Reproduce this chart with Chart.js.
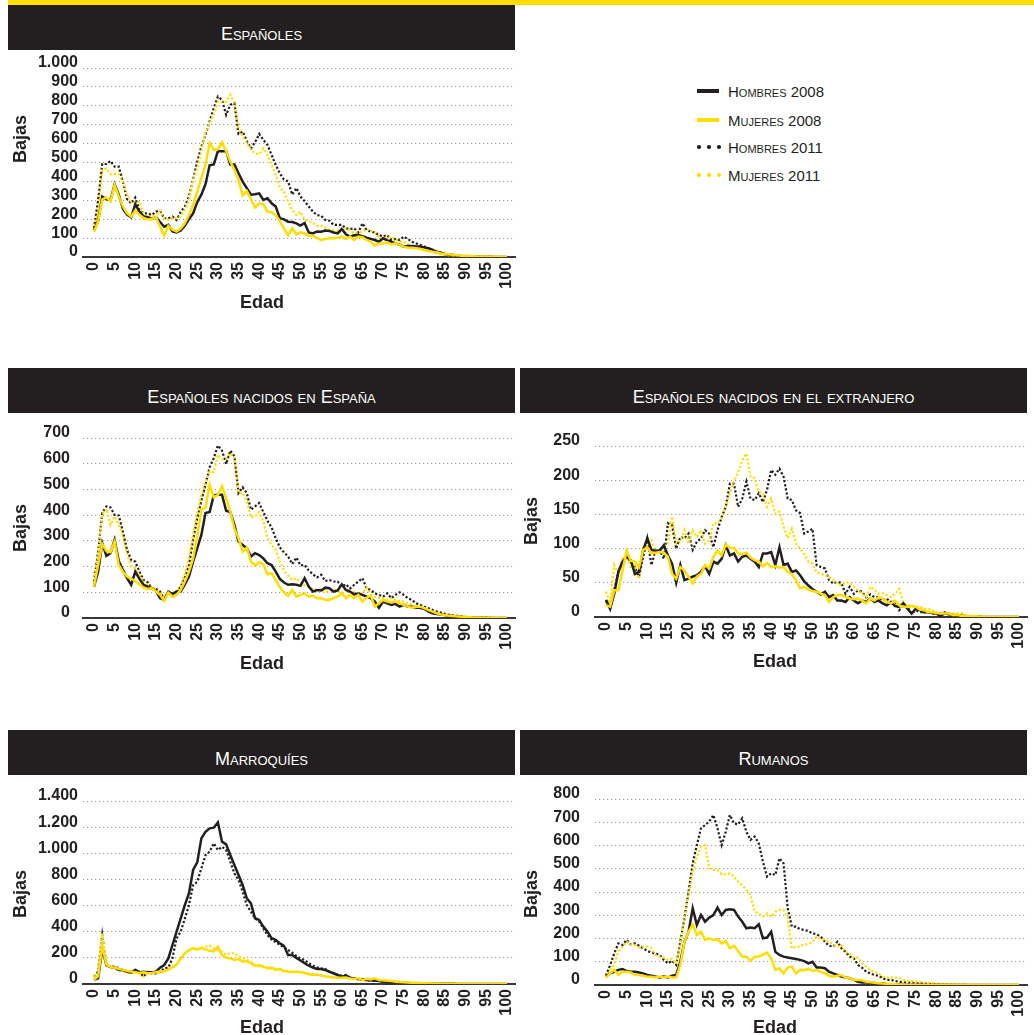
<!DOCTYPE html>
<html><head><meta charset="utf-8">
<script src="https://cdn.jsdelivr.net/npm/chart.js@4.4.0/dist/chart.umd.min.js"></script>
<style>
body{margin:0;background:#fff;width:1034px;height:1035px;position:relative;overflow:hidden;font-family:"Liberation Sans",Arial,Helvetica,sans-serif;color:#231f20}
.band{position:absolute;left:8px;top:0;width:1026px;height:5px;background:#ffdd00}
.hdr{position:absolute;width:507px;height:45px;background:#231f20;color:#fff;font-size:18px;font-variant:small-caps;display:flex;justify-content:center;align-items:center;box-sizing:border-box;padding-top:13px;line-height:1}
canvas{position:absolute}
.yt,.xt{position:absolute;font-weight:bold;font-size:18px;white-space:nowrap;line-height:1;color:#231f20}
.yt{transform:translate(-50%,-50%) rotate(-90deg)}
.xt{transform:translate(-50%,-50%)}
.leg{position:absolute;left:697px;height:20px;display:flex;align-items:center;font-size:15px;font-variant:small-caps;color:#231f20}
.ls{width:22px;height:3.3px;margin-right:9px}
.dots{display:flex;justify-content:space-between;width:24px;margin-right:7px}
.dots i{display:block;width:3.6px;height:3.6px;border-radius:50%}
</style></head>
<body>
<div class="band"></div>
<canvas id="c1" width="520" height="250" style="left:0;top:48px"></canvas>
<canvas id="c2" width="520" height="245" style="left:0;top:418px"></canvas>
<canvas id="c3" width="520" height="240" style="left:512px;top:426px"></canvas>
<canvas id="c4" width="520" height="254" style="left:0;top:781px"></canvas>
<canvas id="c5" width="520" height="256" style="left:512px;top:779px"></canvas>
<div id="h1" class="hdr" style="left:8px;top:5px"></div>
<div id="h2" class="hdr" style="left:8px;top:368px"></div>
<div id="h3" class="hdr" style="left:520px;top:368px"></div>
<div id="h4" class="hdr" style="left:8px;top:730px"></div>
<div id="h5" class="hdr" style="left:520px;top:730px"></div>
<div id="legend"></div>
<div id="titles"></div>
<script>
const ages = [0,1,2,3,4,5,6,7,8,9,10,11,12,13,14,15,16,17,18,19,20,21,22,23,24,25,26,27,28,29,30,31,32,33,34,35,36,37,38,39,40,41,42,43,44,45,46,47,48,49,50,51,52,53,54,55,56,57,58,59,60,61,62,63,64,65,66,67,68,69,70,71,72,73,74,75,76,77,78,79,80,81,82,83,84,85,86,87,88,89,90,91,92,93,94,95,96,97,98,99,100];
const xTicks = [0,5,10,15,20,25,30,35,40,45,50,55,60,65,70,75,80,85,90,95,100];
const seriesNames = ['Hombres 2008','Mujeres 2008','Hombres 2011','Mujeres 2011'];
const panelTitles = ['Españoles','Españoles nacidos en España','Españoles nacidos en el extranjero','Marroquíes','Rumanos'];
const yTitle = 'Bajas';
const xTitle = 'Edad';

// Españoles
const espYTicks = [0,100,200,300,400,500,600,700,800,900,1000];
const espH08 = [140,190,320,305,300,385,330,255,225,210,280,240,215,210,200,210,185,160,170,135,130,140,165,200,230,290,330,385,485,490,560,560,560,490,490,443,399,364,330,332,337,302,311,284,267,205,199,187,185,178,166,180,130,125,135,134,140,138,130,125,148,120,108,115,116,110,102,96,90,81,99,88,81,72,65,55,58,58,56,55,50,46,38,28,22,16,13,11,8,5,4,3,2,2,1,1,1,0,0,0,0];
const espM08 = [134,187,305,315,293,381,320,267,232,214,246,223,206,200,200,211,160,112,165,145,135,150,178,222,275,346,417,487,602,567,570,607,558,505,461,408,325,349,307,261,284,279,240,237,222,191,152,115,152,120,130,125,113,113,100,90,95,99,99,102,108,95,108,90,108,105,90,81,60,72,72,78,67,72,64,55,49,49,46,42,37,32,28,25,19,16,14,11,9,7,6,5,4,3,2,2,1,1,1,0,0];
const espH11 = [152,300,492,492,508,478,478,399,307,284,314,249,231,231,222,240,244,205,205,214,196,240,267,320,408,505,584,646,717,787,849,831,752,805,814,651,664,614,575,607,651,620,593,540,487,443,410,400,330,365,320,295,268,240,222,218,196,192,170,170,170,152,148,152,130,178,143,134,130,116,108,116,90,95,90,108,95,81,72,64,55,46,37,28,23,14,11,8,6,4,3,2,2,1,1,1,0,0,0,0,0];
const espM11 = [143,240,461,469,438,438,438,399,328,293,284,293,226,214,214,222,244,205,196,208,205,215,250,300,399,469,558,660,708,755,822,819,822,858,814,681,637,602,567,549,544,575,540,487,434,367,346,293,249,222,240,196,191,180,165,165,155,143,140,138,145,152,140,125,130,134,148,140,134,102,99,105,108,95,81,81,68,55,50,46,42,37,28,19,15,11,9,7,5,4,3,3,2,2,1,1,1,0,0,0,0];

// Españoles nacidos en España
const nacYTicks = [0,100,200,300,400,500,600,700];
const nacH08 = [122,180,291,242,252,304,222,187,155,129,180,152,129,122,116,105,77,70,103,92,103,103,131,161,219,271,323,408,412,477,479,479,417,412,362,297,284,271,239,252,245,232,213,206,180,152,138,129,131,129,125,155,122,103,109,107,118,116,103,107,131,109,103,92,95,90,83,77,64,40,64,57,51,55,44,51,44,44,40,40,35,25,18,16,14,12,9,8,5,4,3,2,2,1,1,1,0,0,0,0,0];
const nacM08 = [122,206,287,261,256,297,206,180,161,152,144,131,118,113,116,103,90,66,99,83,90,109,142,180,232,317,421,430,518,469,479,512,466,414,347,310,258,274,219,204,217,209,170,174,148,119,100,87,109,83,90,96,83,87,77,77,70,70,77,83,96,77,90,77,90,64,79,87,44,57,70,64,60,64,57,51,44,40,44,44,38,31,25,18,14,12,9,8,6,5,4,3,2,2,1,1,1,0,0,0,0];
const nacH11 = [142,258,408,434,430,401,399,336,265,226,219,180,148,139,116,113,103,74,100,96,100,122,155,206,304,388,456,518,586,622,671,651,599,651,629,486,508,486,421,434,447,412,378,352,310,275,255,240,210,235,205,206,185,170,158,168,144,148,142,142,122,131,115,129,142,155,115,109,96,90,83,96,77,90,100,90,77,70,57,51,44,38,31,25,21,16,12,9,8,6,4,3,2,2,1,1,1,0,0,0,0];
const nacM11 = [129,245,401,425,362,395,362,323,252,200,194,168,142,129,119,112,96,83,96,96,103,122,174,232,323,408,479,521,570,568,635,619,619,642,622,486,486,453,391,395,412,375,310,284,265,219,185,165,148,155,138,126,122,112,108,113,100,106,109,105,96,109,103,100,90,96,118,92,83,77,77,70,77,70,66,64,57,51,44,40,35,31,25,21,17,14,11,9,7,5,4,3,2,2,1,1,1,0,0,0,0];

// Españoles nacidos en el extranjero
const extYTicks = [0,50,100,150,200,250];
const extH08 = [25,12,34,66,81,88,83,63,66,98,115,98,97,97,105,90,78,50,76,54,56,59,61,66,74,63,81,78,85,105,90,93,81,88,90,85,81,73,93,93,95,76,102,76,78,66,68,61,52,46,41,37,33,37,29,32,24,24,22,29,24,20,24,22,27,22,24,20,17,22,16,15,20,12,5,12,10,7,7,6,5,2,5,4,3,2,2,1,1,1,1,0,0,0,0,0,0,0,0,0,0];
const extM08 = [17,15,39,39,68,97,82,81,73,98,102,93,94,95,94,88,63,56,73,68,59,49,59,63,76,71,88,97,90,106,101,101,93,92,94,87,83,81,74,79,73,74,72,73,66,63,54,42,44,40,38,37,34,32,22,29,32,32,29,27,26,27,24,20,27,24,29,27,22,20,24,17,15,15,16,15,11,10,7,7,6,5,5,5,3,3,2,2,1,1,1,0,0,0,0,0,0,0,0,0,0];
const extH11 = [24,12,40,66,81,88,81,73,59,88,115,76,97,98,85,137,134,100,117,115,122,98,110,115,127,122,102,127,146,161,195,195,161,173,198,173,171,181,168,186,215,208,217,205,173,171,156,152,122,125,129,76,73,71,54,49,51,50,34,44,34,39,37,29,33,29,29,24,27,20,24,10,17,15,5,10,7,7,7,5,5,2,7,5,3,3,2,2,1,1,1,0,0,0,0,0,0,0,0,0,0];
const extM11 = [37,20,76,63,85,90,73,76,56,103,105,112,93,100,103,107,147,107,112,127,107,127,117,127,107,112,137,137,144,161,181,198,212,229,239,205,203,183,181,161,173,151,154,132,115,129,107,100,92,81,78,65,63,61,59,54,49,46,51,50,44,39,34,29,44,40,34,35,32,29,34,41,20,17,17,15,15,12,12,10,7,6,6,5,5,5,6,2,2,1,1,0,0,0,0,0,0,0,0,0,0];

// Marroquíes
const marYTicks = [0,200,400,600,800,1000,1200,1400];
const marH08 = [31,43,270,145,130,125,107,107,94,89,107,89,94,89,89,94,125,145,196,298,400,502,604,694,872,930,1114,1165,1191,1196,1237,1089,1068,987,911,834,758,656,617,503,490,439,401,350,337,311,292,222,222,200,180,160,140,125,115,115,107,94,82,69,56,64,48,43,38,36,31,28,26,23,20,18,15,13,10,8,7,6,5,4,3,3,2,2,1,1,1,1,0,0,0,0,0,0,0,0,0,0,0,0,0];
const marM08 = [30,60,290,150,130,125,115,110,100,95,90,85,90,82,85,90,95,100,110,130,150,195,235,260,275,265,275,265,255,250,285,220,200,196,184,191,171,176,158,140,145,133,120,125,110,115,100,95,92,95,90,85,72,70,72,65,58,55,50,48,48,50,43,38,45,30,40,35,43,30,28,25,22,18,15,13,11,10,8,7,6,5,4,3,2,2,1,1,1,0,0,0,0,0,0,0,0,0,0,0,0];
const marH11 = [56,94,375,145,133,133,120,107,107,82,107,94,56,94,82,82,94,120,125,196,349,400,502,604,757,782,884,986,1012,1076,1025,1050,1025,936,847,796,706,604,553,502,477,426,375,340,320,300,280,260,240,215,195,185,160,140,128,120,115,94,82,69,64,69,48,43,36,33,28,26,23,23,18,18,15,12,10,10,8,7,6,5,4,3,3,2,2,1,1,1,0,0,0,0,0,0,0,0,0,0,0,0,0];
const marM11 = [56,82,390,145,125,125,107,99,89,82,94,82,56,82,94,94,82,94,107,125,145,196,235,260,273,260,278,286,293,273,260,247,222,235,235,209,201,184,171,145,133,133,125,115,107,110,100,95,95,90,92,80,82,72,70,68,60,55,55,50,52,45,48,40,42,38,35,40,33,30,28,25,24,20,18,15,12,11,10,8,7,6,5,4,3,3,2,2,1,1,0,0,0,0,0,0,0,0,0,0,0];

// Rumanos
const rumYTicks = [0,100,200,300,400,500,600,700,800];
const rumH08 = [36,50,57,65,69,60,57,57,54,50,43,40,36,32,36,32,40,43,100,186,229,330,258,301,272,290,301,333,301,323,326,323,294,272,244,247,244,261,201,204,229,143,129,122,118,115,112,108,103,93,100,75,75,72,57,50,43,36,32,29,22,14,11,11,10,9,7,6,4,3,3,2,2,1,1,1,1,0,0,0,0,0,0,0,0,0,0,0,0,0,0,0,0,0,0,0,0,0,0,0,0];
const rumM08 = [32,50,65,43,57,57,54,43,43,40,36,36,32,36,32,36,32,32,86,186,229,261,215,229,194,201,194,197,179,189,158,169,146,122,122,104,122,122,132,140,115,65,72,50,75,79,50,65,64,69,60,64,57,50,40,36,40,43,32,29,22,22,20,14,12,10,8,6,5,4,3,2,2,1,1,1,0,0,0,0,0,0,0,0,0,0,0,0,0,0,0,0,0,0,0,0,0,0,0,0,0];
const rumH11 = [40,86,136,179,172,194,175,179,169,158,146,140,136,129,108,93,104,86,186,287,401,523,602,674,688,703,731,674,602,659,731,695,691,717,659,624,638,609,530,466,480,473,545,523,330,251,251,240,237,232,222,218,208,186,169,165,186,158,143,122,115,86,75,57,50,43,40,29,22,22,17,14,11,10,9,8,7,6,5,4,3,3,2,2,1,1,1,0,0,0,0,0,0,0,0,0,0,0,0,0,0];
const rumM11 = [32,65,86,143,165,186,175,172,161,165,165,158,129,122,118,108,112,93,172,287,387,487,552,595,602,502,495,495,476,476,480,466,444,430,409,387,315,308,294,308,294,315,323,323,287,158,165,165,175,175,186,208,198,194,186,175,165,172,143,136,115,118,93,79,65,55,50,36,32,32,32,29,22,17,17,15,14,11,10,9,7,6,5,4,3,3,2,2,1,1,1,0,0,0,0,0,0,0,0,0,0];

// ---------- presentation ----------
const INK = '#231f20', YEL = '#ffdd00';
const lineStyles = [
  {color: INK, width: 2.5, dash: [], order: 1},
  {color: YEL, width: 2.5, dash: [], order: 0},
  {color: INK, width: 2.2, dash: [2.2, 2], order: 3},
  {color: YEL, width: 2.2, dash: [2.2, 2], order: 2}
];
Chart.defaults.font.family = '"Liberation Sans", Arial, Helvetica, sans-serif';

function fmtThousands(v) { return String(v).replace(/\B(?=(\d{3})+(?!\d))/g, '.'); }
function xy(vals) { return vals.map((v, i) => ({x: ages[i], y: v})); }

function build(id, series, yTicks, labelPad, xH) {
  new Chart(document.getElementById(id), {
    type: 'line',
    data: {
      datasets: series.map((s, i) => ({
        label: seriesNames[i], data: xy(s),
        borderColor: lineStyles[i].color, borderWidth: lineStyles[i].width,
        borderDash: lineStyles[i].dash, borderCapStyle: 'butt', borderJoinStyle: 'miter',
        pointRadius: 0, tension: 0, fill: false, order: lineStyles[i].order
      }))
    },
    options: {
      responsive: false, animation: false, events: [],
      layout: {padding: {top: 20, right: 5, left: 0, bottom: 0}},
      plugins: {legend: {display: false}, tooltip: {enabled: false}},
      scales: {
        x: {
          type: 'linear', min: -2.66, max: 101.94,
          afterBuildTicks: s => { s.ticks = xTicks.map(v => ({value: v})); },
          afterFit: s => { s.height = xH; s.paddingLeft = 0; s.paddingRight = 0; },
          ticks: {autoSkip: false, minRotation: 90, maxRotation: 90, padding: 5,
                  color: INK, font: {size: 16, weight: 'bold'}, callback: v => String(v)},
          grid: {display: false, drawTicks: false},
          border: {display: true, color: '#3a3637', width: 2}
        },
        y: {
          min: 0, max: yTicks[yTicks.length - 1],
          afterBuildTicks: s => { s.ticks = yTicks.map(v => ({value: v})); },
          afterFit: s => { s.width = 83; s.paddingTop = 0; s.paddingBottom = 0; },
          ticks: {autoSkip: false, padding: labelPad, labelOffset: -5, color: INK,
                  font: {size: 16, weight: 'bold'}, callback: v => fmtThousands(v)},
          grid: {drawTicks: false, lineWidth: 1,
                 color: c => (c.tick && c.tick.value === 0) ? 'rgba(0,0,0,0)' : '#9b9b9b'},
          border: {display: false, dash: [1.2, 2.8]}
        }
      }
    }
  });
}

build('c1', [espH08, espM08, espH11, espM11], espYTicks, 5, 41);
build('c2', [nacH08, nacM08, nacH11, nacM11], nacYTicks, 13, 45);
build('c3', [extH08, extM08, extH11, extM11], extYTicks, 15, 49);
build('c4', [marH08, marM08, marH11, marM11], marYTicks, 5, 51);
build('c5', [rumH08, rumM08, rumH11, rumM11], rumYTicks, 15, 50);

// headers
panelTitles.forEach((t, i) => { document.getElementById('h' + (i + 1)).textContent = t; });

// axis titles
const titlePos = [
  {yx: 20, yy: 139, xx: 262, xy: 302},
  {yx: 20, yy: 528, xx: 262, xy: 663},
  {yx: 531, yy: 521, xx: 775, xy: 661},
  {yx: 20, yy: 894, xx: 262, xy: 1027},
  {yx: 531, yy: 894, xx: 775, xy: 1027}
];
const tWrap = document.getElementById('titles');
titlePos.forEach(p => {
  const a = document.createElement('div'); a.className = 'yt'; a.textContent = yTitle;
  a.style.left = p.yx + 'px'; a.style.top = p.yy + 'px'; tWrap.appendChild(a);
  const b = document.createElement('div'); b.className = 'xt'; b.textContent = xTitle;
  b.style.left = p.xx + 'px'; b.style.top = p.xy + 'px'; tWrap.appendChild(b);
});

// legend
const legTops = [81, 110, 137, 165];
const lWrap = document.getElementById('legend');
seriesNames.forEach((n, i) => {
  const row = document.createElement('div'); row.className = 'leg'; row.style.top = legTops[i] + 'px';
  const st = lineStyles[i];
  let sample;
  if (st.dash.length === 0) {
    sample = document.createElement('span'); sample.className = 'ls'; sample.style.background = st.color;
  } else {
    sample = document.createElement('span'); sample.className = 'dots';
    for (let k = 0; k < 3; k++) { const d = document.createElement('i'); d.style.background = st.color; sample.appendChild(d); }
  }
  row.appendChild(sample);
  const tx = document.createElement('span'); tx.textContent = n; row.appendChild(tx);
  lWrap.appendChild(row);
});
</script>
</body></html>
